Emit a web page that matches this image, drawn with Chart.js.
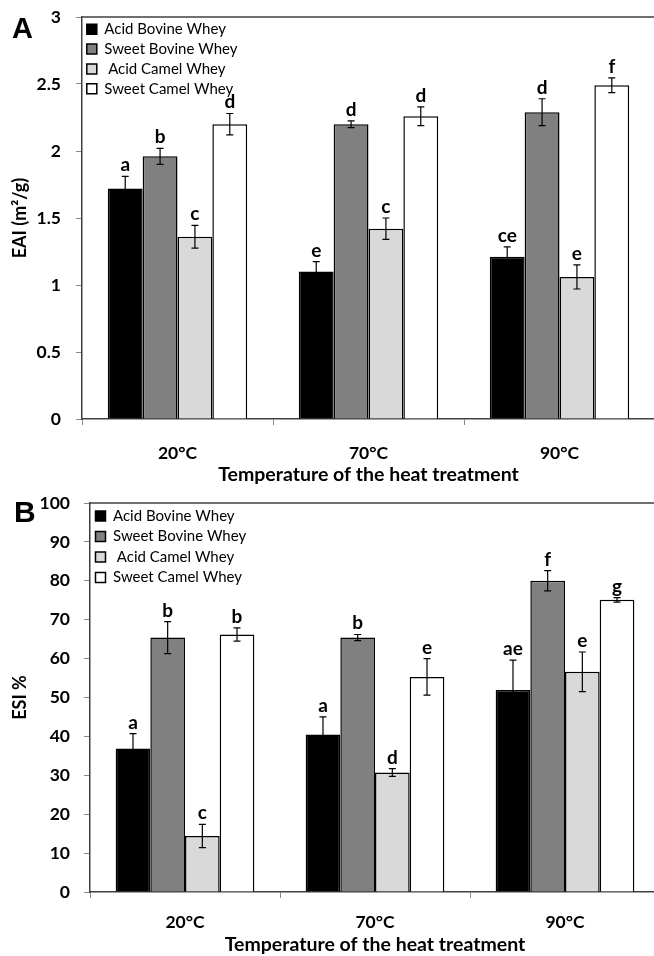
<!DOCTYPE html>
<html>
<head>
<meta charset="utf-8">
<script src="https://cdn.jsdelivr.net/npm/chart.js@4.4.1/dist/chart.umd.min.js"></script>
<style>
    html, body { margin: 0; padding: 0; background: #fff; overflow: hidden; width: 654px; height: 956px; }
    canvas { position: absolute; left: 0; }
    .panel { position: absolute; font-family: "Liberation Sans", Arial, sans-serif; font-weight: bold; line-height: 1; color: #000; }
</style>
</head>
<body>
<canvas id="graficaEAI" width="655" height="488" style="top:0"></canvas>
<canvas id="graficaESI" width="660" height="468" style="top:488px"></canvas>
<div class="panel" style="left:12px; top:14px; font-size:29px;">A</div>
<div class="panel" style="left:14px; top:497px; font-size:30px;">B</div>
<script>
// ── DATOS ─────────────────────────────────────────────────────
const categorias = ['20°C', '70°C', '90°C'];
const series     = ['Acid Bovine Whey', 'Sweet Bovine Whey', ' Acid Camel Whey', 'Sweet Camel Whey'];
const colores    = ['#000000', '#808080', '#d9d9d9', '#ffffff'];

// Panel A - EAI (m²/g)
const eaiAcidBovine   = [1.72, 1.10, 1.21];
const eaiSweetBovine  = [1.96, 2.20, 2.29];
const eaiAcidCamel    = [1.36, 1.42, 1.06];
const eaiSweetCamel   = [2.20, 2.26, 2.49];
const eaiErrAcidBovine  = [0.09, 0.075, 0.075];
const eaiErrSweetBovine = [0.06, 0.025, 0.10];
const eaiErrAcidCamel   = [0.085, 0.08, 0.09];
const eaiErrSweetCamel  = [0.08, 0.07, 0.055];
const eaiLetrasAcidBovine  = ['a', 'e', 'ce'];
const eaiLetrasSweetBovine = ['b', 'd', 'd'];
const eaiLetrasAcidCamel   = ['c', 'c', 'e'];
const eaiLetrasSweetCamel  = ['d', 'd', 'f'];
const eaiMax = 3, eaiPaso = 0.5;

// Panel B - ESI %
const esiAcidBovine   = [36.9, 40.5, 51.9];
const esiSweetBovine  = [65.4, 65.4, 80.0];
const esiAcidCamel    = [14.4, 30.7, 56.6];
const esiSweetCamel   = [66.2, 55.3, 75.1];
const esiErrAcidBovine  = [3.8, 4.5, 7.7];
const esiErrSweetBovine = [4.1, 0.8, 2.6];
const esiErrAcidCamel   = [3.0, 1.0, 5.1];
const esiErrSweetCamel  = [1.7, 4.7, 0.6];
const esiLetrasAcidBovine  = ['a', 'a', 'ae'];
const esiLetrasSweetBovine = ['b', 'b', 'f'];
const esiLetrasAcidCamel   = ['c', 'd', 'e'];
const esiLetrasSweetCamel  = ['b', 'e', 'g'];
const esiMax = 100, esiPaso = 10;

Chart.defaults.font.family = 'Lato, "Open Sans", sans-serif';
Chart.defaults.color = '#000';

// ── BARRAS DE ERROR, LETRAS Y BORDE SUPERIOR ──────────────────
const pluginBarras = {
    id: 'barrasError',
    afterLayout(chart) {
        // leyenda dentro del área del gráfico, arriba a la izquierda
        const lg = chart.legend, a = chart.chartArea;
        if (!lg) return;
        const w = lg.width, h = lg.height;
        lg.left = a.left; lg.top = a.top;
        lg.right = a.left + w; lg.bottom = a.top + h;
    },
    afterDatasetsDraw(chart) {
        const ctx = chart.ctx;
        const y = chart.scales.y;
        ctx.save();
        chart.data.datasets.forEach((ds, i) => {
            chart.getDatasetMeta(i).data.forEach((bar, j) => {
                const v = ds.data[j], e = ds.errores[j];
                const yTop = y.getPixelForValue(v + e);
                const yBot = y.getPixelForValue(v - e);
                ctx.strokeStyle = '#000';
                ctx.lineWidth = 1.2;
                ctx.beginPath();
                ctx.moveTo(bar.x, yTop);       ctx.lineTo(bar.x, yBot);
                ctx.moveTo(bar.x - 3.5, yTop); ctx.lineTo(bar.x + 3.5, yTop);
                ctx.moveTo(bar.x - 3.5, yBot); ctx.lineTo(bar.x + 3.5, yBot);
                ctx.stroke();
                ctx.fillStyle = '#000';
                ctx.font = 'bold 19px Lato';
                ctx.textAlign = 'center';
                ctx.textBaseline = 'alphabetic';
                ctx.fillText(ds.letras[j], bar.x, yTop - 5);
            });
        });
        const a = chart.chartArea;
        ctx.strokeStyle = '#404040';
        ctx.lineWidth = 1.5;
        ctx.beginPath();
        ctx.moveTo(a.left, a.top);
        ctx.lineTo(a.right + 10, a.top);
        ctx.stroke();
        ctx.restore();
    }
};

function crearDatasets(valores, errores, letras) {
    return series.map((nombre, i) => ({
        label: nombre,
        data: valores[i],
        errores: errores[i],
        letras: letras[i],
        backgroundColor: colores[i],
        borderColor: '#000',
        borderWidth: 1.5,
        barPercentage: 1,
        categoryPercentage: 0.73
    }));
}

function crearGrafica(id, cfg) {
    return new Chart(document.getElementById(id), {
        type: 'bar',
        data: {
            labels: categorias,
            datasets: crearDatasets(cfg.valores, cfg.errores, cfg.letras)
        },
        plugins: [pluginBarras],
        options: {
            responsive: false,
            animation: false,
            devicePixelRatio: 1,
            layout: { padding: { top: cfg.padTop, left: 0, right: 0, bottom: 0 } },
            plugins: {
                tooltip: { enabled: false },
                legend: {
                    position: 'chartArea',
                    align: 'start',
                    labels: {
                        boxWidth: 10,
                        boxHeight: 10,
                        padding: cfg.legendPad,
                        color: '#000',
                        font: { size: 15 }
                    }
                }
            },
            scales: {
                x: {
                    grid: { drawOnChartArea: false, color: '#888', tickLength: 6 },
                    border: { color: '#404040', width: 1.5 },
                    ticks: { padding: cfg.xTickPad, font: { size: 17.5, weight: 'bold' } },
                    title: {
                        display: true,
                        text: 'Temperature of the heat treatment',
                        font: { size: 19.5, weight: 'bold' },
                        padding: { top: 0, bottom: cfg.xTitlePad }
                    },
                    afterFit: s => { s.height = cfg.xAltura; }
                },
                y: {
                    min: 0,
                    max: cfg.max,
                    grid: { drawOnChartArea: false, color: '#888', tickLength: 6 },
                    border: { color: '#404040', width: 1.5 },
                    ticks: {
                        stepSize: cfg.paso,
                        padding: cfg.yTickPad,
                        font: { size: 17.5, weight: 'bold' },
                        callback: v => String(v)
                    },
                    title: {
                        display: true,
                        text: cfg.tituloY,
                        font: { size: 18, weight: 'bold' },
                        padding: { top: 9, bottom: 0 }
                    },
                    afterFit: s => {
                        s.width = cfg.yAncho;
                        s.paddingTop = 0;
                        s.paddingBottom = 0;
                    }
                }
            }
        }
    });
}

crearGrafica('graficaEAI', {
    valores: [eaiAcidBovine, eaiSweetBovine, eaiAcidCamel, eaiSweetCamel],
    errores: [eaiErrAcidBovine, eaiErrSweetBovine, eaiErrAcidCamel, eaiErrSweetCamel],
    letras:  [eaiLetrasAcidBovine, eaiLetrasSweetBovine, eaiLetrasAcidCamel, eaiLetrasSweetCamel],
    max: eaiMax, paso: eaiPaso,
    tituloY: 'EAI (m²/g)',
    padTop: 17, legendPad: 4.8,
    yAncho: 82, yTickPad: 15,
    xAltura: 69, xTickPad: 17.5, xTitlePad: 1.3
});

crearGrafica('graficaESI', {
    valores: [esiAcidBovine, esiSweetBovine, esiAcidCamel, esiSweetCamel],
    errores: [esiErrAcidBovine, esiErrSweetBovine, esiErrAcidCamel, esiErrSweetCamel],
    letras:  [esiLetrasAcidBovine, esiLetrasSweetBovine, esiLetrasAcidCamel, esiLetrasSweetCamel],
    max: esiMax, paso: esiPaso,
    tituloY: 'ESI %',
    padTop: 15, legendPad: 5.5,
    yAncho: 90, yTickPad: 14,
    xAltura: 64, xTickPad: 13.5, xTitlePad: 0
});
</script>
</body>
</html>
